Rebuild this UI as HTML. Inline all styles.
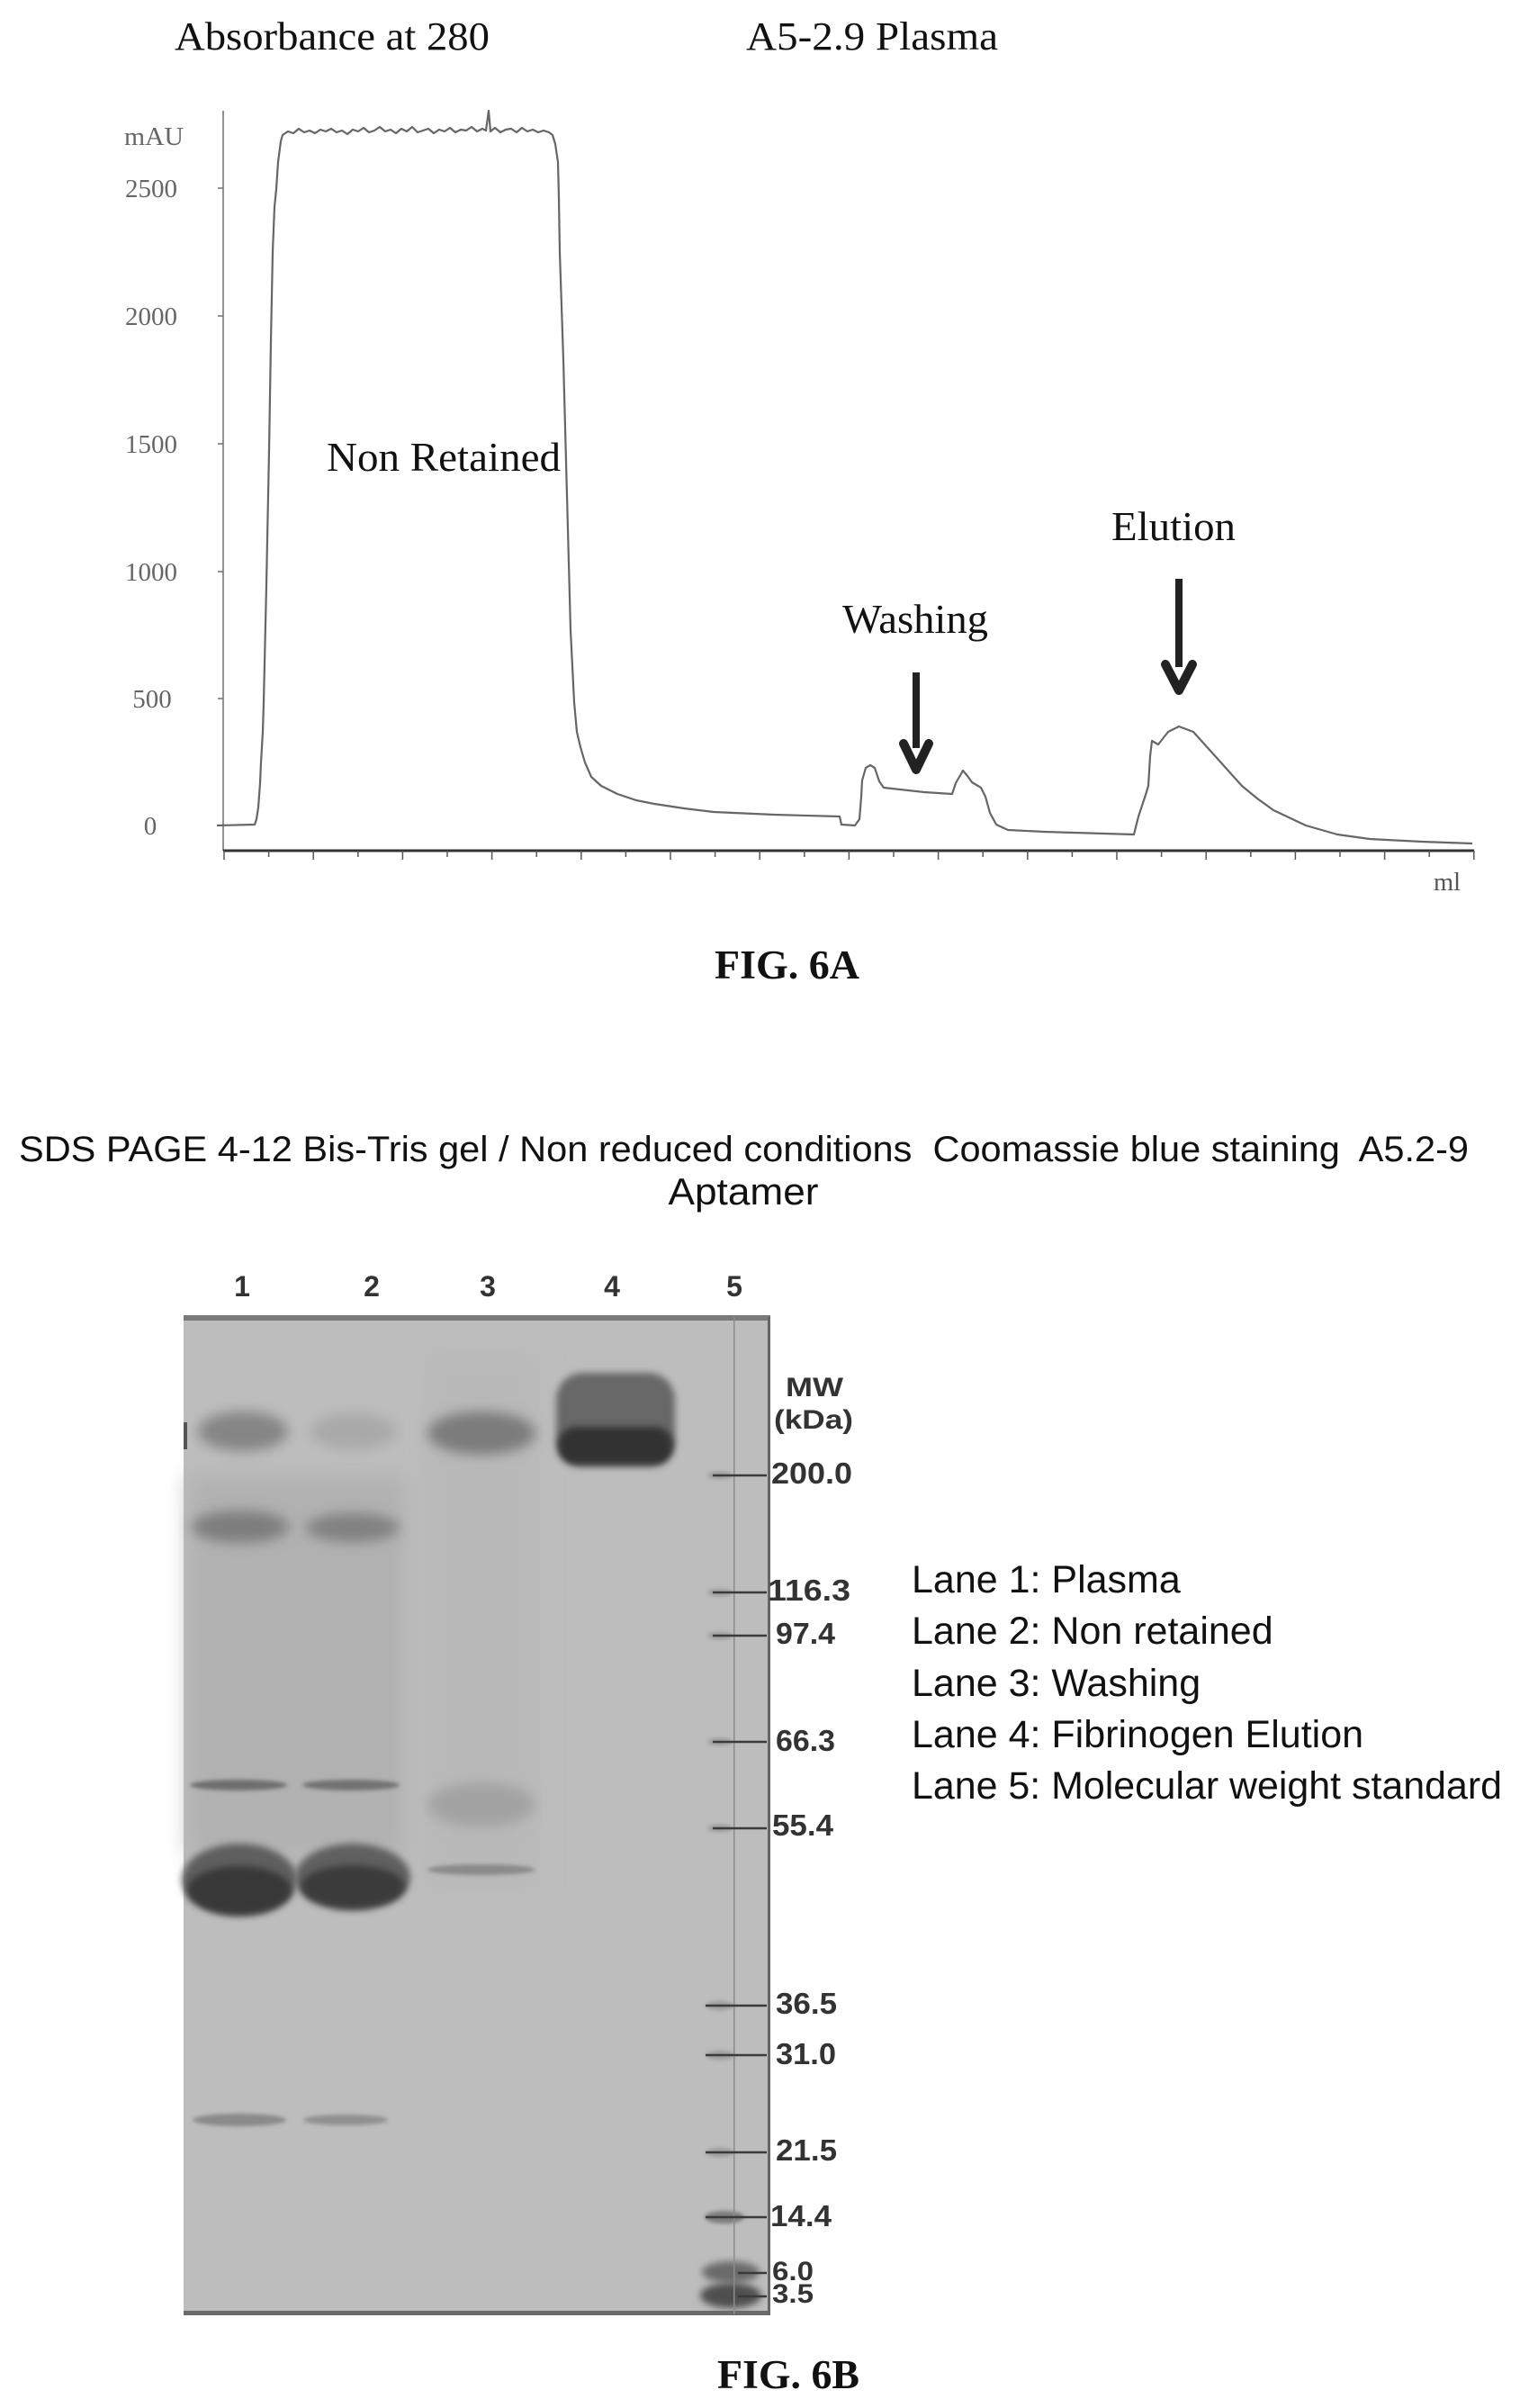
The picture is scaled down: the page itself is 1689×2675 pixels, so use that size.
<!DOCTYPE html>
<html>
<head>
<meta charset="utf-8">
<style>
  html, body { margin:0; padding:0; background:#fff; }
  body { width:1689px; height:2675px; overflow:hidden; }
  svg { display:block; }
  .serif { font-family: "Liberation Serif", "Times New Roman", serif; }
  .sans { font-family: "Liberation Sans", Arial, sans-serif; }
</style>
</head>
<body>
<svg width="1689" height="2675" viewBox="0 0 1689 2675" xmlns="http://www.w3.org/2000/svg">
  <defs>
    <filter id="b2" x="-30%" y="-60%" width="160%" height="220%"><feGaussianBlur stdDeviation="2"/></filter>
    <filter id="b4" x="-30%" y="-60%" width="160%" height="220%"><feGaussianBlur stdDeviation="4"/></filter>
    <filter id="b7" x="-30%" y="-60%" width="160%" height="220%"><feGaussianBlur stdDeviation="7"/></filter>
    <filter id="b12" x="-30%" y="-60%" width="160%" height="220%"><feGaussianBlur stdDeviation="12"/></filter>
  </defs>
  <rect x="0" y="0" width="1689" height="2675" fill="#ffffff"/>

  <!-- ================= FIG 6A ================= -->
  <g class="serif" fill="#111">
    <text x="194" y="55" font-size="44" textLength="350" lengthAdjust="spacingAndGlyphs">Absorbance at 280</text>
    <text x="829" y="55" font-size="44" textLength="280" lengthAdjust="spacingAndGlyphs">A5-2.9 Plasma</text>
  </g>

  <!-- y axis -->
  <line x1="248" y1="123" x2="248" y2="945" stroke="#777" stroke-width="1.6"/>
  <g stroke="#777" stroke-width="1.6">
    <line x1="242" y1="209" x2="248" y2="209"/>
    <line x1="242" y1="351" x2="248" y2="351"/>
    <line x1="242" y1="493" x2="248" y2="493"/>
    <line x1="242" y1="635" x2="248" y2="635"/>
    <line x1="242" y1="776" x2="248" y2="776"/>
    <line x1="242" y1="917" x2="248" y2="917"/>
  </g>
  <g class="serif" fill="#666" font-size="29" text-anchor="middle">
    <text x="171" y="161" textLength="66" lengthAdjust="spacingAndGlyphs">mAU</text>
    <text x="168" y="219">2500</text>
    <text x="168" y="361">2000</text>
    <text x="168" y="503">1500</text>
    <text x="168" y="645">1000</text>
    <text x="169" y="786">500</text>
    <text x="167" y="927">0</text>
  </g>

  <!-- x axis -->
  <line x1="248" y1="945" x2="1638" y2="945" stroke="#333" stroke-width="3"/>
  <g stroke="#555" stroke-width="1.5">
    <line x1="249" y1="945" x2="249" y2="955"/><line x1="298.6" y1="945" x2="298.6" y2="952"/>
    <line x1="348.2" y1="945" x2="348.2" y2="955"/><line x1="397.8" y1="945" x2="397.8" y2="952"/>
    <line x1="447.4" y1="945" x2="447.4" y2="955"/><line x1="497" y1="945" x2="497" y2="952"/>
    <line x1="546.6" y1="945" x2="546.6" y2="955"/><line x1="596.2" y1="945" x2="596.2" y2="952"/>
    <line x1="645.8" y1="945" x2="645.8" y2="955"/><line x1="695.4" y1="945" x2="695.4" y2="952"/>
    <line x1="745" y1="945" x2="745" y2="955"/><line x1="794.6" y1="945" x2="794.6" y2="952"/>
    <line x1="844.2" y1="945" x2="844.2" y2="955"/><line x1="893.8" y1="945" x2="893.8" y2="952"/>
    <line x1="943.4" y1="945" x2="943.4" y2="955"/><line x1="993" y1="945" x2="993" y2="952"/>
    <line x1="1042.6" y1="945" x2="1042.6" y2="955"/><line x1="1092.2" y1="945" x2="1092.2" y2="952"/>
    <line x1="1141.8" y1="945" x2="1141.8" y2="955"/><line x1="1191.4" y1="945" x2="1191.4" y2="952"/>
    <line x1="1241" y1="945" x2="1241" y2="955"/><line x1="1290.6" y1="945" x2="1290.6" y2="952"/>
    <line x1="1340.2" y1="945" x2="1340.2" y2="955"/><line x1="1389.8" y1="945" x2="1389.8" y2="952"/>
    <line x1="1439.4" y1="945" x2="1439.4" y2="955"/><line x1="1489" y1="945" x2="1489" y2="952"/>
    <line x1="1538.6" y1="945" x2="1538.6" y2="955"/><line x1="1588.2" y1="945" x2="1588.2" y2="952"/>
    <line x1="1637.8" y1="945" x2="1637.8" y2="955"/>
  </g>
  <text class="serif" x="1593" y="989" font-size="29" fill="#555" textLength="30" lengthAdjust="spacingAndGlyphs">ml</text>

  <!-- chromatogram trace -->
  <polyline fill="none" stroke="#666" stroke-width="2.2" stroke-linejoin="round" points="
    241,917 283,916 285,910 287,897 289,870 290,847 292,813 293,780 296,650 299,500 301,380 303,280 305,230 307,210 309,180 312,157 314,150
    320,146 326,148 332,143 338,147 344,145 350,148 356,144 362,146 368,143 374,147 380,145 386,149 392,144 398,146 404,142 410,147 416,145
    422,141 428,146 434,144 440,148 446,143 452,146 458,141 464,147 470,145 476,143 482,148 488,144 494,146 500,142 506,147 512,144 518,145
    524,141 530,146 536,143 540,145 543,123 545,146 550,142 556,147 562,144 568,143 574,147 580,142 586,146 592,144 598,147 604,145 610,147
    614,150 617,160 620,180 621,220 622,280 626,400 630,550 634,700 638,780 641,813 645,830 650,847 657,863 668,873 686,882 707,889 727,893
    760,898 793,902 860,905 933,907 935,916 950,917 955,910 957,885 958,867 962,853 967,850 972,853 977,868 982,875 1027,880 1058,882
    1062,870 1070,856 1075,862 1080,869 1090,875 1095,885 1100,903 1107,916 1120,922 1160,924 1260,927 1265,907 1273,883 1276,873
    1278,840 1280,823 1287,827 1298,813 1310,807 1326,813 1344,833 1362,853 1380,873 1397,887 1415,900 1451,917 1486,927 1522,932
    1580,935 1636,937"/>

  <g class="serif" fill="#111" font-size="46">
    <text x="363" y="523" textLength="260" lengthAdjust="spacingAndGlyphs">Non Retained</text>
    <text x="936" y="703" textLength="162" lengthAdjust="spacingAndGlyphs">Washing</text>
    <text x="1235" y="600" textLength="138" lengthAdjust="spacingAndGlyphs">Elution</text>
  </g>

  <!-- arrows -->
  <g fill="#222" stroke="#222">
    <rect x="1014" y="747" width="8" height="84" stroke="none"/>
    <polyline points="1004,826 1018,855 1032,826" fill="none" stroke-width="10" stroke-linecap="round" stroke-linejoin="round"/>
    <rect x="1306" y="643" width="8" height="98" stroke="none"/>
    <polyline points="1295,738 1310,767 1325,738" fill="none" stroke-width="10" stroke-linecap="round" stroke-linejoin="round"/>
  </g>

  <text class="serif" x="794" y="1087" font-size="45" font-weight="bold" fill="#111" textLength="161" lengthAdjust="spacingAndGlyphs">FIG. 6A</text>

  <!-- ================= FIG 6B ================= -->
  <g class="sans" fill="#111">
    <text x="21" y="1290" font-size="40" textLength="1611" lengthAdjust="spacingAndGlyphs" xml:space="preserve" style="white-space:pre">SDS PAGE 4-12 Bis-Tris gel / Non reduced conditions  Coomassie blue staining  A5.2-9</text>
    <text x="826" y="1338" font-size="42" text-anchor="middle" textLength="167" lengthAdjust="spacingAndGlyphs">Aptamer</text>
  </g>

  <!-- lane numbers -->
  <g class="sans" fill="#333" font-size="32" font-weight="bold" text-anchor="middle">
    <text x="269" y="1440">1</text>
    <text x="413" y="1440">2</text>
    <text x="542" y="1440">3</text>
    <text x="680" y="1440">4</text>
    <text x="816" y="1440">5</text>
  </g>

  <!-- gel -->
  <rect x="204" y="1463" width="652" height="1108" fill="#bdbdbd"/>
  <!-- darker smear lanes 1-2 -->
  <rect x="210" y="1640" width="240" height="420" fill="#b1b1b1" filter="url(#b12)"/>
  <rect x="470" y="1500" width="130" height="600" fill="#b9b9b9" filter="url(#b12)"/>

  <!-- Lane 1 -->
  <ellipse cx="270" cy="1590" rx="50" ry="22" fill="#858585" filter="url(#b7)"/>
  <rect x="204" y="1580" width="4" height="30" fill="#555"/>
  <ellipse cx="267" cy="1696" rx="54" ry="18" fill="#7e7e7e" filter="url(#b7)"/>
  <ellipse cx="265" cy="1983" rx="54" ry="6" fill="#6e6e6e" filter="url(#b2)"/>
  <ellipse cx="266" cy="2088" rx="64" ry="40" fill="#5e5e5e" filter="url(#b4)"/>
  <ellipse cx="266" cy="2100" rx="58" ry="27" fill="#383838" filter="url(#b4)"/>
  <ellipse cx="266" cy="2355" rx="52" ry="7" fill="#8a8a8a" filter="url(#b2)"/>

  <!-- Lane 2 -->
  <ellipse cx="393" cy="1590" rx="48" ry="20" fill="#a9a9a9" filter="url(#b7)"/>
  <ellipse cx="392" cy="1697" rx="52" ry="16" fill="#818181" filter="url(#b7)"/>
  <ellipse cx="390" cy="1983" rx="54" ry="6" fill="#727272" filter="url(#b2)"/>
  <ellipse cx="392" cy="2085" rx="64" ry="37" fill="#606060" filter="url(#b4)"/>
  <ellipse cx="392" cy="2096" rx="58" ry="24" fill="#3a3a3a" filter="url(#b4)"/>
  <ellipse cx="384" cy="2355" rx="47" ry="6" fill="#909090" filter="url(#b2)"/>

  <!-- Lane 3 -->
  <ellipse cx="535" cy="1592" rx="60" ry="24" fill="#7c7c7c" filter="url(#b7)"/>
  <ellipse cx="535" cy="2005" rx="60" ry="25" fill="#a3a3a3" filter="url(#b7)"/>
  <ellipse cx="535" cy="2077" rx="60" ry="6" fill="#8a8a8a" filter="url(#b2)"/>

  <!-- Lane 4 -->
  <rect x="618" y="1525" width="132" height="104" rx="30" ry="30" fill="#676767" filter="url(#b4)"/>
  <rect x="620" y="1585" width="128" height="42" rx="20" ry="20" fill="#333" filter="url(#b4)"/>

  <!-- Lane 5 marker smudges -->
  <g fill="#9a9a9a" filter="url(#b2)">
    <ellipse cx="800" cy="1639" rx="14" ry="4"/>
    <ellipse cx="800" cy="1769" rx="14" ry="4"/>
    <ellipse cx="800" cy="1817" rx="14" ry="4"/>
    <ellipse cx="800" cy="1935" rx="14" ry="4"/>
    <ellipse cx="800" cy="2031" rx="14" ry="4"/>
    <ellipse cx="800" cy="2228" rx="16" ry="5"/>
    <ellipse cx="800" cy="2283" rx="16" ry="5"/>
    <ellipse cx="800" cy="2391" rx="16" ry="5"/>
  </g>
  <ellipse cx="805" cy="2463" rx="22" ry="7" fill="#7a7a7a" filter="url(#b2)"/>
  <ellipse cx="812" cy="2524" rx="32" ry="12" fill="#6a6a6a" filter="url(#b4)"/>
  <ellipse cx="812" cy="2550" rx="34" ry="14" fill="#505050" filter="url(#b4)"/>

  <!-- gel edges -->
  <rect x="204" y="1461" width="652" height="6" fill="#7a7a7a"/>
  <rect x="204" y="2567" width="652" height="5" fill="#6a6a6a"/>
  <rect x="853" y="1463" width="3" height="1108" fill="#666"/>
  <rect x="815" y="1463" width="1.5" height="1108" fill="#8c8c8c"/>

  <!-- marker lines -->
  <g stroke="#3a3a3a" stroke-width="2.5">
    <line x1="792" y1="1639" x2="852" y2="1639"/>
    <line x1="792" y1="1769" x2="852" y2="1769"/>
    <line x1="792" y1="1817" x2="852" y2="1817"/>
    <line x1="792" y1="1935" x2="852" y2="1935"/>
    <line x1="792" y1="2031" x2="852" y2="2031"/>
    <line x1="784" y1="2228" x2="852" y2="2228"/>
    <line x1="784" y1="2283" x2="852" y2="2283"/>
    <line x1="784" y1="2391" x2="852" y2="2391"/>
    <line x1="784" y1="2463" x2="852" y2="2463"/>
    <line x1="820" y1="2525" x2="852" y2="2525"/>
    <line x1="820" y1="2551" x2="852" y2="2551"/>
  </g>

  <!-- MW labels -->
  <g class="sans" fill="#333" font-weight="bold">
    <text x="873" y="1551" font-size="30" textLength="64" lengthAdjust="spacingAndGlyphs">MW</text>
    <text x="860" y="1587" font-size="30" textLength="88" lengthAdjust="spacingAndGlyphs">(kDa)</text>
    <text x="857" y="1648" font-size="33" textLength="90" lengthAdjust="spacingAndGlyphs">200.0</text>
    <text x="853" y="1778" font-size="33" textLength="92" lengthAdjust="spacingAndGlyphs">116.3</text>
    <text x="862" y="1826" font-size="33" textLength="66" lengthAdjust="spacingAndGlyphs">97.4</text>
    <text x="862" y="1945" font-size="33" textLength="66" lengthAdjust="spacingAndGlyphs">66.3</text>
    <text x="858" y="2039" font-size="33" textLength="68" lengthAdjust="spacingAndGlyphs">55.4</text>
    <text x="862" y="2237" font-size="33" textLength="68" lengthAdjust="spacingAndGlyphs">36.5</text>
    <text x="862" y="2293" font-size="33" textLength="67" lengthAdjust="spacingAndGlyphs">31.0</text>
    <text x="862" y="2400" font-size="33" textLength="68" lengthAdjust="spacingAndGlyphs">21.5</text>
    <text x="856" y="2473" font-size="33" textLength="68" lengthAdjust="spacingAndGlyphs">14.4</text>
    <text x="858" y="2533" font-size="30" textLength="46" lengthAdjust="spacingAndGlyphs">6.0</text>
    <text x="858" y="2558" font-size="30" textLength="46" lengthAdjust="spacingAndGlyphs">3.5</text>
  </g>

  <!-- legend -->
  <g class="sans" fill="#111" font-size="43">
    <text x="1013" y="1769">Lane 1: Plasma</text>
    <text x="1013" y="1826">Lane 2: Non retained</text>
    <text x="1013" y="1884">Lane 3: Washing</text>
    <text x="1013" y="1941">Lane 4: Fibrinogen Elution</text>
    <text x="1013" y="1998" textLength="656" lengthAdjust="spacingAndGlyphs">Lane 5: Molecular weight standard</text>
  </g>

  <text class="serif" x="797" y="2653" font-size="45" font-weight="bold" fill="#111" textLength="158" lengthAdjust="spacingAndGlyphs">FIG. 6B</text>
</svg>
</body>
</html>
